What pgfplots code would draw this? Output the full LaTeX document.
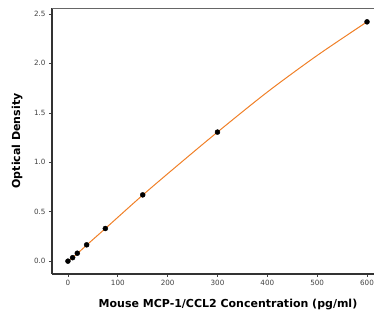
\documentclass[border=0pt]{standalone}
\usepackage{pgfplots}
\pgfplotsset{compat=1.18}
\usepackage{fontspec}
\setmainfont{DejaVu Sans}
\usetikzlibrary{calc}
\definecolor{fitorange}{RGB}{240,128,40}
\begin{document}
\begin{tikzpicture}
\begin{axis}[name=ax,
  scale only axis, width=322pt, height=266pt,
  xmin=-32, xmax=614, ymin=-0.13, ymax=2.56,
  axis x line*=bottom, axis y line*=left,
  axis line style={line width=1.4pt, color=black!80},
  xtick={0,100,200,300,400,500,600},
  ytick={0,0.5,1,1.5,2,2.5},
  yticklabel style={/pgf/number format/.cd, fixed, fixed zerofill, precision=1},
  /pgf/number format/assume math mode=true,
  tick label style={font=\fontsize{7.2}{8}\selectfont, color=black!75},
  tick align=outside, major tick length=3pt,
  tick style={color=black!75, line width=0.6pt},
  xlabel={\bfseries Mouse MCP-1/CCL2 Concentration (pg/ml)},
  ylabel={\bfseries Optical Density},
  label style={font=\fontsize{11}{13}\selectfont},
  xlabel style={at={(rel axis cs:0.5,0)}, anchor=north, yshift=-22pt, xshift=15pt},
  ylabel style={at={(rel axis cs:0,0.5)}, anchor=south, yshift=26pt},
  clip=false,
]
\draw[black!60, line width=0.8pt] (rel axis cs:0,1) -- (rel axis cs:1,1);
\addplot[fitorange, line width=1pt, smooth] coordinates {
(0,0.0) (9.375,0.036) (18.75,0.076) (37.5,0.162) (75,0.33) (150,0.668) (225,0.99) (300,1.305) (400,1.71) (500,2.08) (600,2.42)};
\addplot[only marks, mark=*, mark size=2.5pt, black] coordinates {
(0,0.0) (9.375,0.035) (18.75,0.08) (37.5,0.165) (75,0.33) (150,0.67) (300,1.305) (600,2.42)};
\end{axis}
\pgfresetboundingbox
\path[use as bounding box] ($(ax.south west)+(-52pt,-44pt)$) rectangle ($(ax.north east)+(0pt,8pt)$);
\end{tikzpicture}
\end{document}
